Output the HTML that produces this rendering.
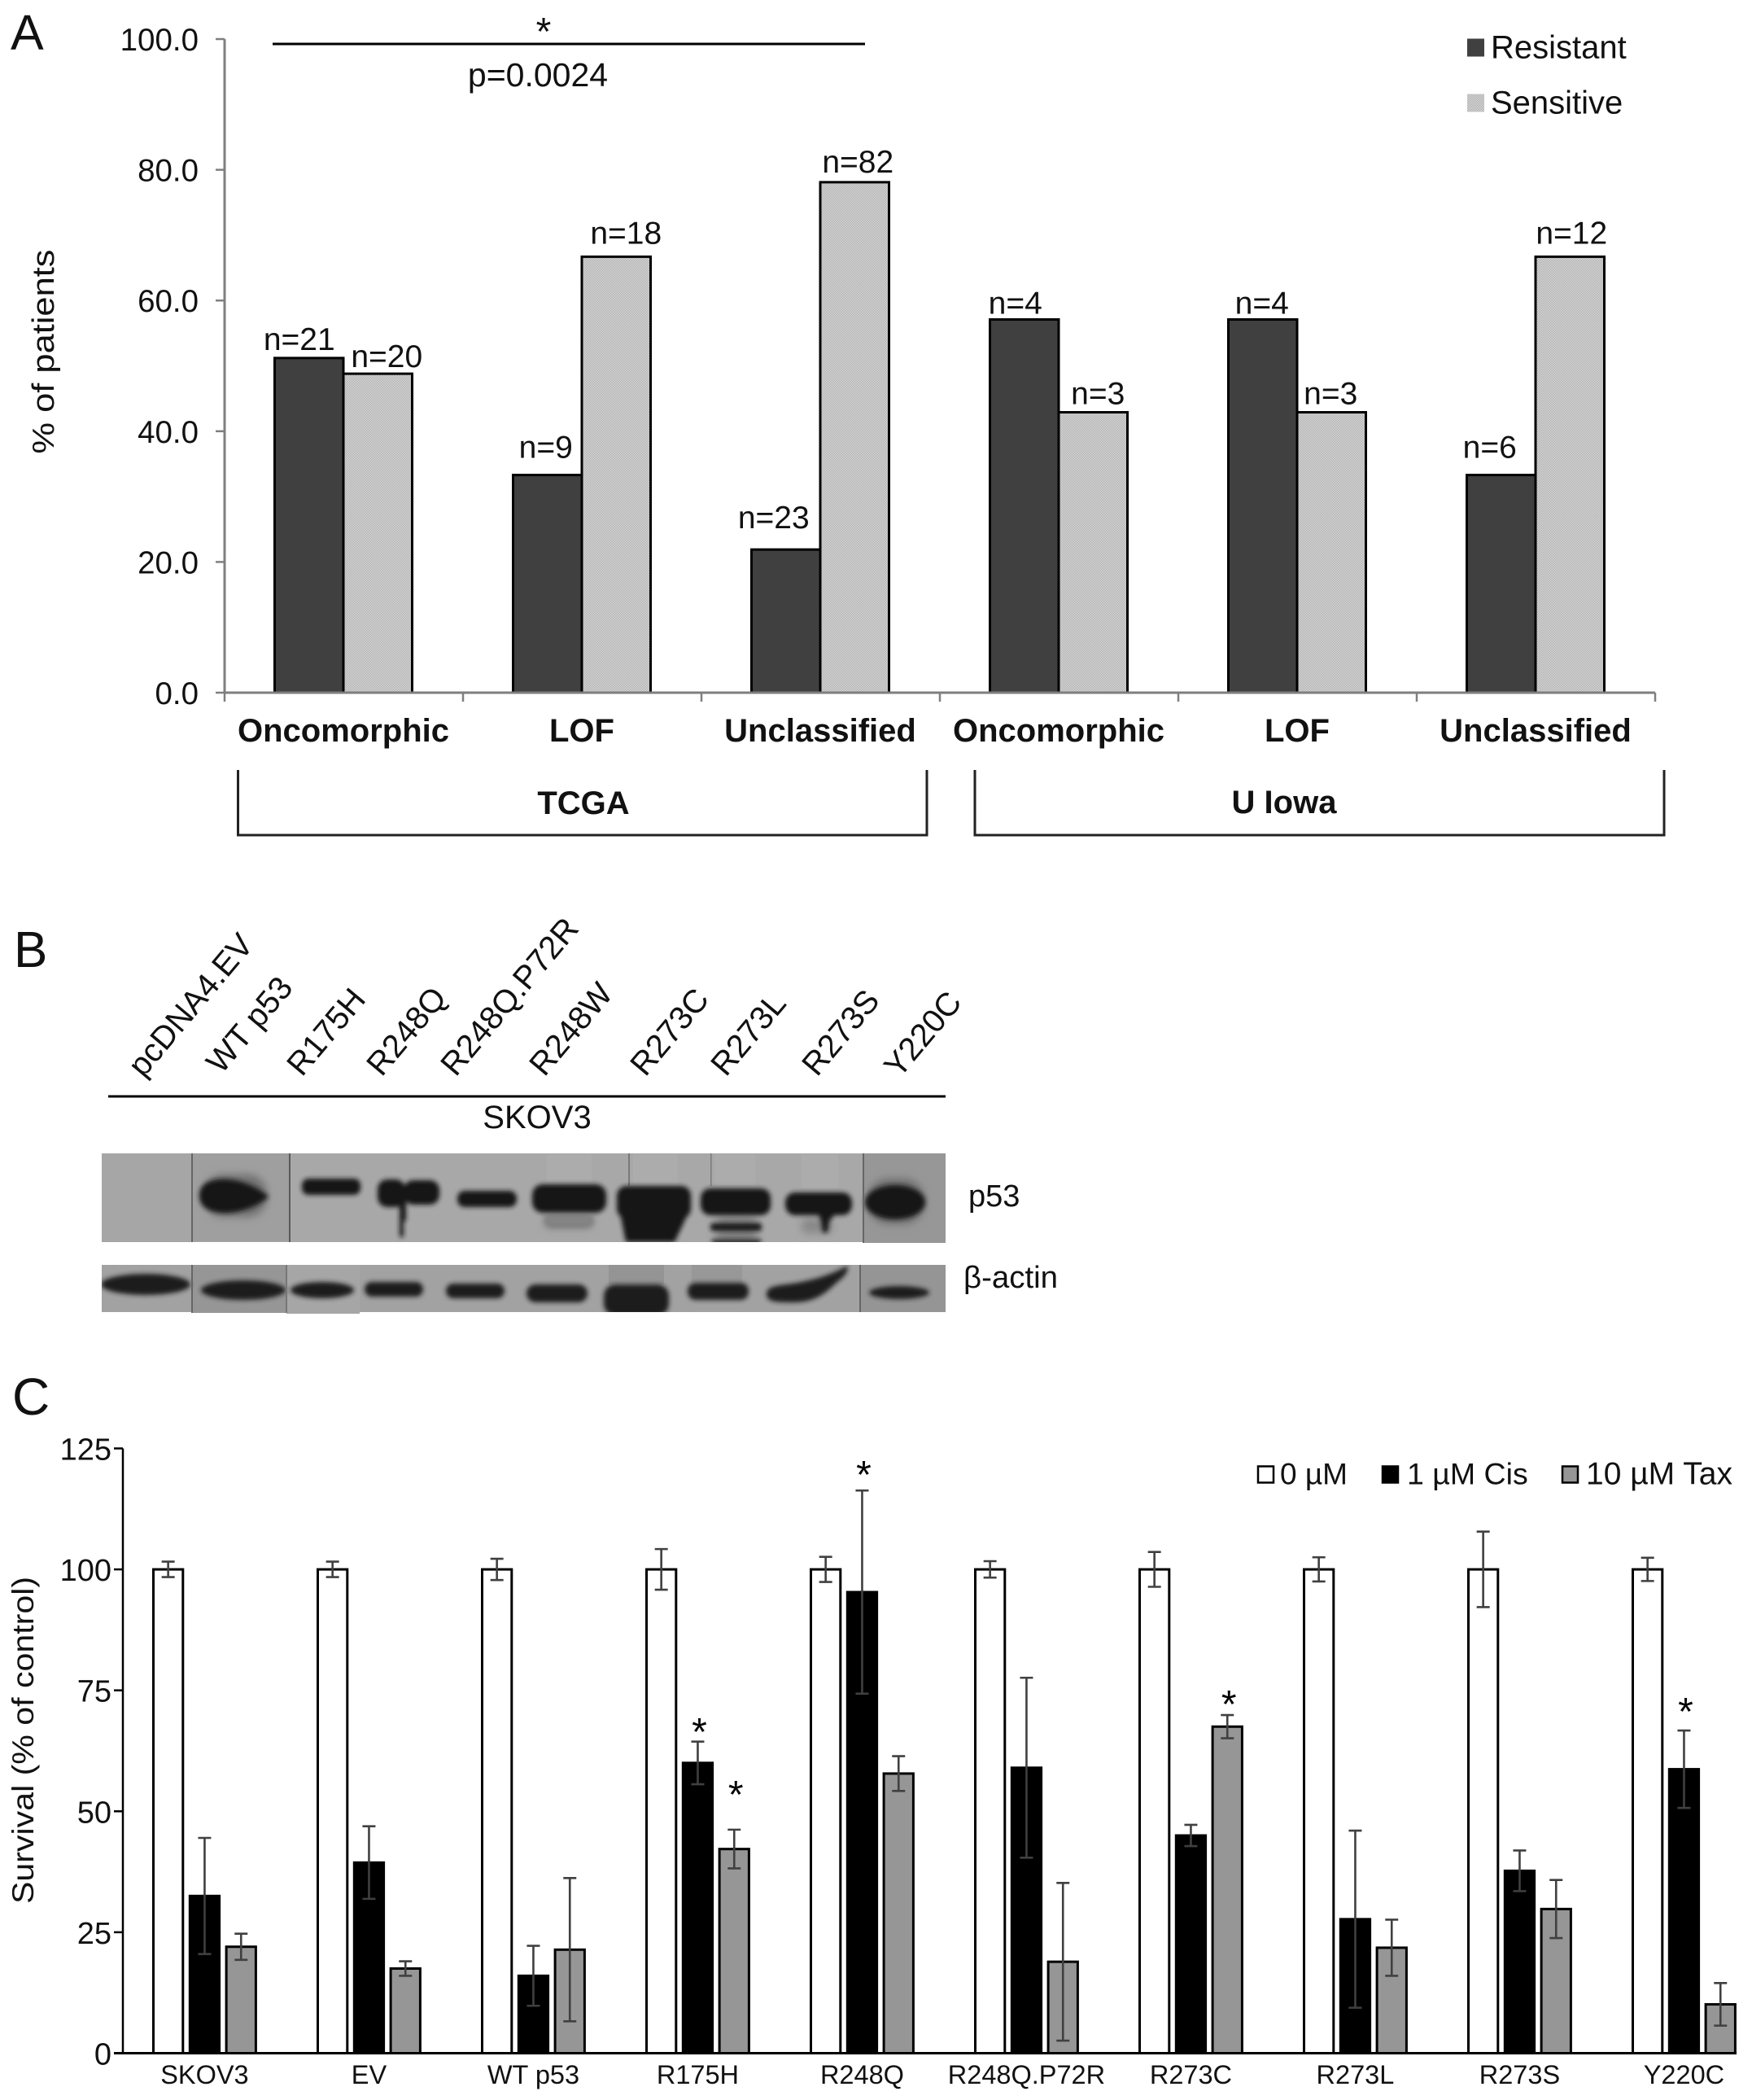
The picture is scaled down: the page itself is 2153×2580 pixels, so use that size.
<!DOCTYPE html>
<html lang="en">
<head>
<meta charset="utf-8">
<title>p53 mutation panels</title>
<style>
html,body{margin:0;padding:0;background:#fff;}
svg{display:block;font-family:"Liberation Sans",Arial,sans-serif;}
</style>
</head>
<body>
<svg id="fig" xmlns="http://www.w3.org/2000/svg" width="2153" height="2580" viewBox="0 0 2153 2580">
  <defs>
    <pattern id="dither" width="3" height="3" patternUnits="userSpaceOnUse">
      <rect width="3" height="3" fill="#d4d4d4"/>
      <rect width="1.5" height="1.5" fill="#b4b4b4"/>
      <rect x="1.5" y="1.5" width="1.5" height="1.5" fill="#b4b4b4"/>
    </pattern>
    <filter id="blurWide" x="-30%" y="-60%" width="160%" height="220%"><feGaussianBlur stdDeviation="5"/></filter>
    <filter id="blurBand" x="-20%" y="-40%" width="140%" height="180%"><feGaussianBlur stdDeviation="2.8"/></filter>
    <clipPath id="p53Clip"><rect x="125" y="1417" width="1037" height="109"/></clipPath>
    <clipPath id="actinClip"><rect x="125" y="1554" width="1037" height="58"/></clipPath>
  </defs>

  <text x="13" y="61" font-size="61" fill="#111">A</text>
  <g id="panelA"></g>

  <text x="17" y="1188" font-size="62" fill="#111">B</text>
  <g font-size="40" fill="#111">
    <text transform="translate(176 1325) rotate(-50)">pcDNA4.EV</text>
    <text transform="translate(272 1321) rotate(-50)">WT p53</text>
    <text transform="translate(371 1324) rotate(-50)">R175H</text>
    <text transform="translate(469 1324) rotate(-50)">R248Q</text>
    <text transform="translate(560 1324) rotate(-50)">R248Q.P72R</text>
    <text transform="translate(669 1324) rotate(-50)">R248W</text>
    <text transform="translate(793 1324) rotate(-50)">R273C</text>
    <text transform="translate(892 1324) rotate(-50)">R273L</text>
    <text transform="translate(1004 1324) rotate(-50)">R273S</text>
    <text transform="translate(1105 1326) rotate(-50)">Y220C</text>
  </g>
  <line x1="133" y1="1347" x2="1162" y2="1347" stroke="#000" stroke-width="3"/>
  <text x="660" y="1386" font-size="40" text-anchor="middle" fill="#111">SKOV3</text>

  <g>
    <rect x="125" y="1417" width="1037" height="109" fill="#a8a8a8"/>
    <rect x="125" y="1417" width="111" height="109" fill="#a6a6a6"/>
    <rect x="236" y="1417" width="120" height="108" fill="#9f9f9f"/>
    <rect x="1061" y="1417" width="101" height="110" fill="#979797"/>
    <g clip-path="url(#p53Clip)">
      <g fill="#6e6e6e" filter="url(#blurWide)">
        <rect x="250" y="1443" width="78" height="52" rx="24"/>
        <rect x="1066" y="1448" width="70" height="56" rx="26"/>
        <rect x="670" y="1492" width="58" height="16" rx="6"/>
        <rect x="880" y="1494" width="50" height="32" rx="6" fill="#808080"/>
        <rect x="985" y="1497" width="38" height="18" rx="6" fill="#888"/>
      </g>
      <g fill="#b6b6b6" opacity=".3">
        <rect x="672" y="1418" width="55" height="34"/>
        <rect x="778" y="1418" width="55" height="36"/>
        <rect x="878" y="1418" width="50" height="38"/>
        <rect x="985" y="1418" width="45" height="42"/>
      </g>
      <g fill="#7a7a7a">
        <rect x="772" y="1417" width="2" height="40"/>
        <rect x="873" y="1417" width="1.5" height="40"/>
      </g>
      <g fill="#191919" filter="url(#blurBand)">
        <path d="M245 1469 C245 1452 262 1448 280 1449 C302 1451 320 1461 330 1470 C320 1480 300 1489 280 1490 C262 1491 245 1485 245 1469 Z"/>
        <rect x="371" y="1448" width="72" height="20" rx="8"/>
        <rect x="464" y="1449" width="34" height="34" rx="12"/>
        <rect x="496" y="1450" width="44" height="30" rx="12"/>
        <rect x="491" y="1470" width="8" height="30"/>
        <rect x="491" y="1490" width="5" height="30" rx="2"/>
        <rect x="562" y="1463" width="73" height="20" rx="9"/>
        <rect x="654" y="1455" width="91" height="35" rx="13"/>
        <rect x="758" y="1457" width="91" height="40" rx="12"/>
        <path d="M762 1490 H846 L829 1526 H769 Z"/>
        <rect x="861" y="1460" width="86" height="33" rx="12"/>
        <rect x="873" y="1503" width="63" height="9" rx="3"/>
        <rect x="875" y="1523" width="60" height="5"/>
        <rect x="965" y="1465" width="82" height="28" rx="12"/>
        <path d="M1004 1488 H1030 L1019 1500 L1017 1514 H1011 L1009 1500 Z"/>
        <ellipse cx="1100" cy="1477" rx="37" ry="21"/>
      </g>
      <rect x="670" y="1493" width="58" height="13" rx="3" fill="#848484" filter="url(#blurBand)"/>
    </g>
    <line x1="236" y1="1417" x2="236" y2="1526" stroke="#666" stroke-width="2"/>
    <line x1="356" y1="1417" x2="356" y2="1526" stroke="#5a5a5a" stroke-width="2"/>
    <line x1="1061" y1="1417" x2="1061" y2="1527" stroke="#666" stroke-width="2"/>
  </g>
  <text x="1190" y="1482" font-size="38" fill="#111">p53</text>

  <g>
    <rect x="125" y="1554" width="1037" height="58" fill="#a2a2a2"/>
    <rect x="236" y="1554" width="116" height="59" fill="#969696"/>
    <rect x="352" y="1554" width="90" height="60" fill="#a6a6a6"/>
    <rect x="1057" y="1554" width="105" height="58" fill="#959595"/>
    <rect x="748" y="1554" width="68" height="24" fill="#949494"/>
    <rect x="850" y="1554" width="62" height="22" fill="#989898"/>
    <g clip-path="url(#actinClip)">
      <g fill="#1a1a1a" filter="url(#blurBand)">
        <ellipse cx="179" cy="1578" rx="55" ry="13"/>
        <ellipse cx="299" cy="1585" rx="52" ry="12"/>
        <ellipse cx="396" cy="1585" rx="39" ry="10"/>
        <rect x="448" y="1575" width="72" height="18" rx="9"/>
        <rect x="548" y="1577" width="72" height="18" rx="9"/>
        <rect x="647" y="1578" width="75" height="22" rx="11"/>
        <rect x="742" y="1578" width="80" height="38" rx="14"/>
        <rect x="845" y="1576" width="75" height="21" rx="10"/>
        <path d="M942 1590 C942 1578 960 1580 985 1575 C1010 1570 1030 1562 1041 1555 C1044 1562 1036 1570 1030 1574 C1018 1585 1005 1600 975 1600 C955 1600 942 1600 942 1590 Z"/>
        <ellipse cx="1105" cy="1588" rx="37" ry="8"/>
      </g>
    </g>
    <line x1="236" y1="1554" x2="236" y2="1613" stroke="#666" stroke-width="2"/>
    <line x1="352" y1="1554" x2="352" y2="1613" stroke="#777" stroke-width="2"/>
    <line x1="1057" y1="1554" x2="1057" y2="1612" stroke="#666" stroke-width="2"/>
  </g>
  <text x="1184" y="1582" font-size="38" textLength="116" lengthAdjust="spacingAndGlyphs" fill="#111">β-actin</text>

  <text x="15" y="1738" font-size="64" fill="#111">C</text>
  <g id="panelC"></g>
</svg>

<script>
// Panel A data
const categoriesA = ['Oncomorphic', 'LOF', 'Unclassified', 'Oncomorphic', 'LOF', 'Unclassified'];
const resistantValues = [51.2, 33.3, 21.9, 57.1, 57.1, 33.3];
const sensitiveValues = [48.8, 66.7, 78.1, 42.9, 42.9, 66.7];
const resistantCounts = ['n=21', 'n=9', 'n=23', 'n=4', 'n=4', 'n=6'];
const sensitiveCounts = ['n=20', 'n=18', 'n=82', 'n=3', 'n=3', 'n=12'];
const ticksA = [0, 20, 40, 60, 80, 100];

// Panel C data
const cellLines = ['SKOV3', 'EV', 'WT p53', 'R175H', 'R248Q', 'R248Q.P72R', 'R273C', 'R273L', 'R273S', 'Y220C'];
const control0 = [100, 100, 100, 100, 100, 100, 100, 100, 100, 100];
const cis1 = [32.5, 39.4, 16, 60, 95.3, 59, 45, 27.7, 37.7, 58.7];
const tax10 = [22, 17.5, 21.4, 42.2, 57.8, 18.9, 67.5, 21.8, 29.8, 10.1];
const control0Err = [1.6, 1.6, 2.2, 4.2, 2.6, 1.7, 3.6, 2.5, 7.8, 2.4];
const cis1Err = [12, 7.5, 6.2, 4.4, 21, 18.6, 2.2, 18.3, 4.2, 8];
const tax10Err = [2.7, 1.5, 14.8, 4, 3.6, 16.3, 2.4, 5.8, 6, 4.4];
const ticksC = [0, 25, 50, 75, 100, 125];
const starCellIndex = [3, 3, 4, 6, 9];
const starSeriesIndex = [1, 2, 1, 2, 1];
const starValue = [67.4, 54.4, 120.5, 73.1, 71.6];

const NS = 'http://www.w3.org/2000/svg';
function make(tag, attrs, parent, txt) {
  const n = document.createElementNS(NS, tag);
  for (const k in attrs) n.setAttribute(k, attrs[k]);
  if (txt !== undefined) n.textContent = txt;
  parent.appendChild(n);
  return n;
}

/* ---------- Panel A ---------- */
(function () {
  const g = document.getElementById('panelA');
  const x0 = 276, catW = 293, y0 = 851, y100 = 48, barW = 84.5, barOff = 61.5;
  const yA = v => y0 - (y0 - y100) * v / 100;
  const catX = i => x0 + catW * i;
  const nudgeRx = [-12, -2, -15, -11, -1, -14];
  const nudgeRy = [-10, -21, -26, -7, -7, -21];
  const nudgeSx = [11, 12, 4, 6, -1, 2];
  const nudgeSy = [-8, -16, -12, -10, -10, -16];

  const yAxis = make('line', {x1: x0, y1: y100, x2: x0, y2: y0, stroke: '#7f7f7f', 'stroke-width': 3}, g);
  
  
  ticksA.forEach(t => {
    const tick = make('line', {x1: x0 - 11, y1: yA(t), x2: x0, y2: yA(t), stroke: '#7f7f7f', 'stroke-width': 2.5}, g);
    
    
    const lab = make('text', {x: 244, y: yA(t) + 14, 'font-size': 38.5, 'text-anchor': 'end', fill: '#111'}, g, t.toFixed(1));
    
    
  });

  categoriesA.forEach((c, i) => {
    const cx = catX(i);
    const yR = yA(resistantValues[i]), yS = yA(sensitiveValues[i]);
    const r = make('rect', {x: cx + barOff, y: yR, width: barW, height: y0 - yR, fill: '#404040', stroke: '#000', 'stroke-width': 3}, g);
    
    
    const s = make('rect', {x: cx + barOff + barW, y: yS, width: barW, height: y0 - yS, fill: 'url(#dither)', stroke: '#000', 'stroke-width': 3}, g);
    
    
    const nr = make('text', {x: cx + barOff + barW / 2 + nudgeRx[i], y: yR + nudgeRy[i], 'font-size': 39, 'text-anchor': 'middle', fill: '#111'}, g, resistantCounts[i]);
    
    
    const ns = make('text', {x: cx + barOff + barW * 1.5 + nudgeSx[i], y: yS + nudgeSy[i], 'font-size': 39, 'text-anchor': 'middle', fill: '#111'}, g, sensitiveCounts[i]);
    
    
    const cl = make('text', {x: cx + barOff + barW, y: 911, 'font-size': 40, 'font-weight': 'bold', 'text-anchor': 'middle', fill: '#111'}, g, c);
    
    
  });

  for (let i = 0; i <= categoriesA.length; i++) {
    const t = make('line', {x1: catX(i), y1: y0, x2: catX(i), y2: y0 + 11, stroke: '#7f7f7f', 'stroke-width': 2.5}, g);
    
    
  }
  const xAxis = make('line', {x1: x0, y1: y0, x2: catX(categoriesA.length), y2: y0, stroke: '#7f7f7f', 'stroke-width': 3}, g);
  
  

  const title = make('text', {transform: 'translate(66 432) rotate(-90)', 'font-size': 38, 'text-anchor': 'middle', textLength: 251, lengthAdjust: 'spacingAndGlyphs', fill: '#111'}, g, '% of patients');
  
  

  const sig = make('line', {x1: 335, y1: 54, x2: 1063, y2: 54, stroke: '#000', 'stroke-width': 3}, g);
  
  
  const star = make('text', {x: 668, y: 55, 'font-size': 48, 'text-anchor': 'middle', fill: '#111'}, g, '*');
  
  
  const pv = make('text', {x: 661, y: 106, 'font-size': 41, 'text-anchor': 'middle', fill: '#111'}, g, 'p=0.0024');
  
  

  const k1 = make('rect', {x: 1803, y: 47.5, width: 21, height: 22, fill: '#404040'}, g);
  
  
  const l1 = make('text', {x: 1832, y: 71.5, 'font-size': 40, fill: '#111'}, g, 'Resistant');
  
  
  const k2 = make('rect', {x: 1803, y: 115.5, width: 21, height: 22, fill: 'url(#dither)'}, g);
  
  
  const l2 = make('text', {x: 1832, y: 139.5, 'font-size': 40, fill: '#111'}, g, 'Sensitive');
  
  

  const b1 = make('path', {d: 'M292.5 946V1026H1139V946', fill: 'none', stroke: '#222', 'stroke-width': 3}, g);
  
  
  const b2 = make('path', {d: 'M1198 946V1026H2045V946', fill: 'none', stroke: '#222', 'stroke-width': 3}, g);
  
  
  const t1 = make('text', {x: 717, y: 1000, 'font-size': 40, 'font-weight': 'bold', 'text-anchor': 'middle', fill: '#111'}, g, 'TCGA');
  
  
  const t2 = make('text', {x: 1578, y: 999, 'font-size': 40, 'font-weight': 'bold', 'text-anchor': 'middle', fill: '#111'}, g, 'U Iowa');
  
  
})();

/* ---------- Panel C ---------- */
(function () {
  const g = document.getElementById('panelC');
  const x0 = 151, y0 = 2522.5, yTop = 1779.5, first = 188.5, groupStep = 202, stride = 44.8, barW = 36.3;
  const yC = v => y0 - (y0 - yTop) * v / 125;
  const barX = (i, s) => first + groupStep * i + stride * s;
  const seriesVals = [control0, cis1, tax10];
  const seriesErrs = [control0Err, cis1Err, tax10Err];
  const seriesFill = ['#ffffff', '#000000', '#969696'];
  const seriesName = ['bar-0-um', 'bar-1-um-cis', 'bar-10-um-tax'];

  cellLines.forEach((name, i) => {
    seriesVals.forEach((vals, s) => {
      const top = yC(vals[i]);
      const r = make('rect', {x: barX(i, s), y: top, width: barW, height: y0 - top, fill: seriesFill[s], stroke: '#000', 'stroke-width': 3}, g);
      
      
    });
  });
  seriesVals.forEach((vals, s) => {
    cellLines.forEach((name, i) => {
      const cx = barX(i, s) + barW / 2;
      const hi = yC(vals[i] + seriesErrs[s][i]), lo = yC(vals[i] - seriesErrs[s][i]);
      const e = make('path', {d: 'M' + (cx - 8) + ' ' + hi + 'H' + (cx + 8) + 'M' + cx + ' ' + hi + 'V' + lo + 'M' + (cx - 8) + ' ' + lo + 'H' + (cx + 8), fill: 'none', stroke: '#404040', 'stroke-width': 2.6}, g);
      
      
    });
  });

  const yAxis = make('line', {x1: x0, y1: yTop, x2: x0, y2: y0, stroke: '#000', 'stroke-width': 2.5}, g);
  
  
  const xAxis = make('line', {x1: x0 - 11, y1: y0, x2: 2134, y2: y0, stroke: '#000', 'stroke-width': 3}, g);
  
  
  ticksC.forEach(t => {
    const tick = make('line', {x1: x0 - 11, y1: yC(t), x2: x0, y2: yC(t), stroke: '#000', 'stroke-width': 2.5}, g);
    
    
    const lab = make('text', {x: 137, y: yC(t) + 14, 'font-size': 38, 'text-anchor': 'end', fill: '#111'}, g, String(t));
    
    
  });
  cellLines.forEach((name, i) => {
    const lab = make('text', {x: barX(i, 1) + barW / 2, y: 2560, 'font-size': 32.5, 'text-anchor': 'middle', fill: '#111'}, g, name);
    
    
  });
  starValue.forEach((v, k) => {
    const cx = barX(starCellIndex[k], starSeriesIndex[k]) + barW / 2 + 2;
    const st = make('text', {x: cx, y: yC(v) + 22, 'font-size': 48, 'text-anchor': 'middle', fill: '#000'}, g, '*');
    
    
  });

  const title = make('text', {transform: 'translate(41 2138) rotate(-90)', 'font-size': 37, 'text-anchor': 'middle', textLength: 402, lengthAdjust: 'spacingAndGlyphs', fill: '#111'}, g, 'Survival (% of control)');
  
  

  const k0 = make('rect', {x: 1546, y: 1801.5, width: 19, height: 20, fill: '#fff', stroke: '#000', 'stroke-width': 2.5}, g);
  
  
  const t0 = make('text', {x: 1573, y: 1823.5, 'font-size': 37, fill: '#111'}, g, '0 µM');
  
  
  const k1 = make('rect', {x: 1699, y: 1801.5, width: 19, height: 20, fill: '#000', stroke: '#000', 'stroke-width': 2.5}, g);
  
  
  const t1 = make('text', {x: 1729, y: 1823.5, 'font-size': 37.5, fill: '#111'}, g, '1 µM Cis');
  
  
  const k2 = make('rect', {x: 1920, y: 1801.5, width: 19, height: 20, fill: '#969696', stroke: '#000', 'stroke-width': 2.5}, g);
  
  
  const t2 = make('text', {x: 1949, y: 1823.5, 'font-size': 39, fill: '#111'}, g, '10 µM Tax');
  
  
})();
</script>
</body>
</html>
